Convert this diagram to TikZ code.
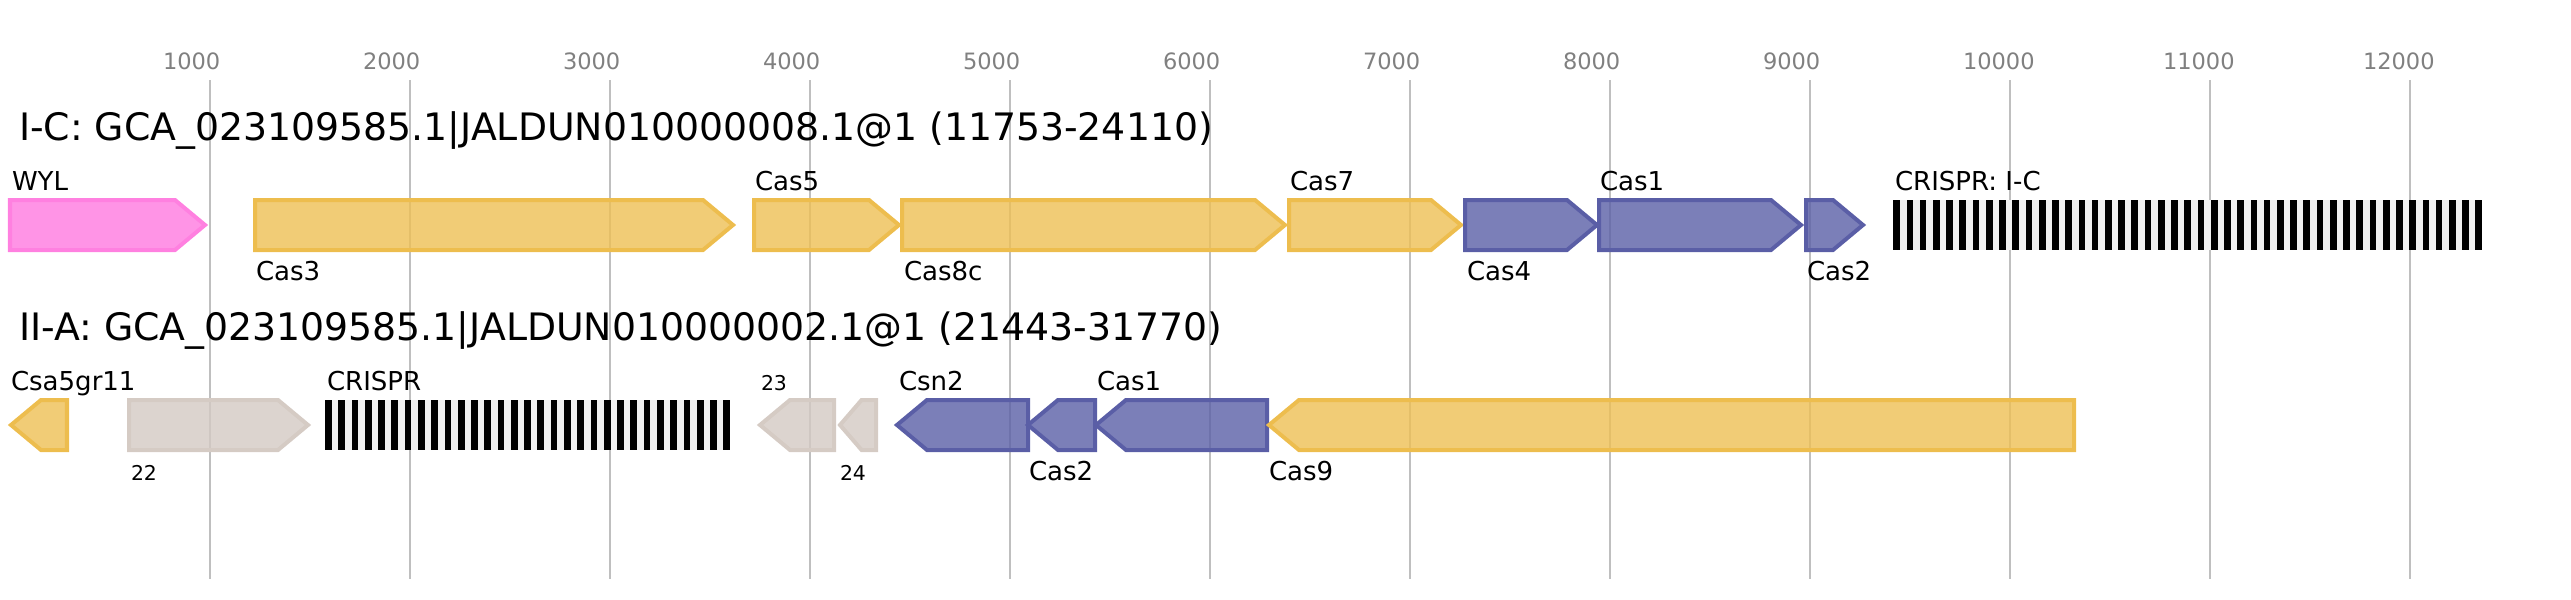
\documentclass[tikz,border=0pt]{standalone}
\usepackage{fontspec}
\setmainfont{DejaVu Sans}

\definecolor{pinkf}{RGB}{255,121,224}
\definecolor{pinkd}{RGB}{255,128,224}
\definecolor{yelf}{RGB}{238,191,84}
\definecolor{yeld}{RGB}{237,189,78}
\definecolor{bluf}{RGB}{90,95,166}
\definecolor{blud}{RGB}{90,94,166}
\definecolor{grayf}{RGB}{211,201,195}
\definecolor{grayd}{RGB}{213,203,196}
\definecolor{tickc}{RGB}{128,128,128}

% gene pointing right: start, end, top, style
\newcommand{\genefwd}[4]{%
  \pgfmathsetmacro{\hd}{min(30,0.6*(#2-#1))}
  \draw[#4] (#1,#3) -- ({#2-\hd},#3) -- (#2,{#3+25}) -- ({#2-\hd},{#3+50}) -- (#1,{#3+50}) -- cycle;}
% gene pointing left: tip, end, top, style
\newcommand{\generev}[4]{%
  \pgfmathsetmacro{\hd}{min(30,0.6*(#2-#1))}
  \draw[#4] (#1,{#3+25}) -- ({#1+\hd},#3) -- (#2,#3) -- (#2,{#3+50}) -- ({#1+\hd},{#3+50}) -- cycle;}
% crispr array: start, end, top, spacers, period
\newcommand{\crisprarr}[5]{%
  \fill[arr] (#1,#3) rectangle (#2,{#3+50});
  \foreach \k in {1,...,#4} \fill ({#1+(\k-1)*#5},#3) rectangle ++(6.7,50);}

\begin{document}
\begin{tikzpicture}[x=0.01cm, y=-0.01cm, line width=0.04cm,
  grid/.style={draw={rgb,255:red,191;green,191;blue,191}, line width=0.02cm},
  tick/.style={anchor=base west, inner sep=0, text=tickc, font=\fontsize{6.4}{8}\selectfont},
  ttl/.style={anchor=base west, inner sep=0, font=\fontsize{10.75}{13}\selectfont},
  lbl/.style={anchor=base west, inner sep=0, font=\fontsize{7.4}{9}\selectfont},
  sm/.style={anchor=base west, inner sep=0, font=\fontsize{5.8}{7}\selectfont},
  pk/.style={draw=pinkd, fill=pinkf, fill opacity=.8},
  ye/.style={draw=yeld, fill=yelf, fill opacity=.8},
  bl/.style={draw=blud, fill=bluf, fill opacity=.8},
  gr/.style={draw=grayd, fill=grayf, fill opacity=.8},
  arr/.style={fill={rgb,255:red,240;green,240;blue,240}}]
	\useasboundingbox (0,0) rectangle (2571,600);

	% axis
	\foreach \i in {1,...,12} {
		\draw[grid] ({10+200*\i},80) -- ({10+200*\i},579);
		\node[tick] (t\i) at ({10+200*\i-49},70) {\i000};
	}

	% I-C
	\node[ttl] (IC) at (17,140) {I-C: GCA\_023109585.1|JALDUN010000008.1@1 (11753-24110)};
	\genefwd{10}{205}{200}{pk}
	\genefwd{255}{733}{200}{ye}
	\genefwd{754}{899}{200}{ye}
	\genefwd{902}{1285}{200}{ye}
	\genefwd{1289}{1461}{200}{ye}
	\genefwd{1465}{1597}{200}{bl}
	\genefwd{1599}{1801}{200}{bl}
	\genefwd{1806}{1863}{200}{bl}
	\crisprarr{1893.3}{2482}{200}{45}{13.23}
	\node[lbl] (WYL) at (10,190) {WYL};
	\node[lbl] (Cas3) at (254,280) {Cas3};
	\node[lbl] (Cas5) at (753,190) {Cas5};
	\node[lbl] (Cas8c) at (902,280) {Cas8c};
	\node[lbl] (Cas7) at (1288,190) {Cas7};
	\node[lbl] (Cas4) at (1465,280) {Cas4};
	\node[lbl] (Cas1a) at (1598,190) {Cas1};
	\node[lbl] (Cas2a) at (1805,280) {Cas2};
	\node[lbl] (CRa) at (1893,190) {CRISPR: I-C};

	% II-A
	\node[ttl] (IIA) at (17,340) {II-A: GCA\_023109585.1|JALDUN010000002.1@1 (21443-31770)};
	\generev{11}{67}{400}{ye}
	\genefwd{129}{308}{400}{gr}
	\crisprarr{325}{730}{400}{31}{13.28}
	\generev{760}{834}{400}{gr}
	\generev{840}{876}{400}{gr}
	\generev{897}{1028}{400}{bl}
	\generev{1028}{1095}{400}{bl}
	\generev{1096}{1267}{400}{bl}
	\generev{1269}{2074}{400}{ye}
	\node[lbl] (Csa5) at (9,390) {Csa5gr11};
	\node[sm] (g22) at (129,480) {22};
	\node[lbl] (CRb) at (325,390) {CRISPR};
	\node[sm] (g23) at (759,390) {23};
	\node[sm] (g24) at (838,480) {24};
	\node[lbl] (Csn2) at (897,390) {Csn2};
	\node[lbl] (Cas2b) at (1027,480) {Cas2};
	\node[lbl] (Cas1b) at (1095,390) {Cas1};
	\node[lbl] (Cas9) at (1267,480) {Cas9};
\end{tikzpicture}
\end{document}
